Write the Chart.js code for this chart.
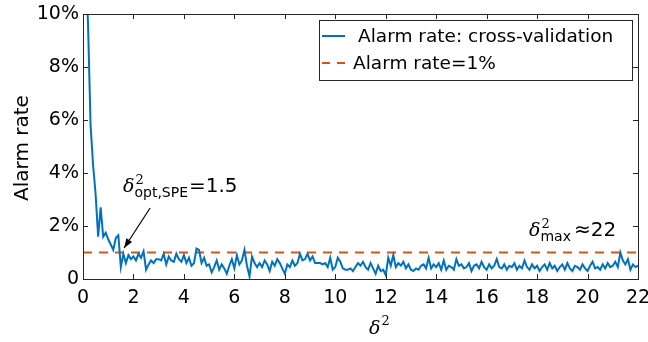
<!DOCTYPE html>
<html><head><meta charset="utf-8">
<script src="https://cdn.jsdelivr.net/npm/chart.js@4/dist/chart.umd.min.js"></script>
<style>html,body{margin:0;padding:0;background:#fff}#wrap{width:648px;height:342px}</style>
</head><body><div id="wrap"><canvas id="c" width="648" height="342"></canvas></div>
<script>
// ---- data ----
const xStart = 0;
const xStep = 0.1;
const alarmRate = [
  15, 12, 9.6, 5.8, 4.3, 3.2, 1.6, 2.7, 1.6, 1.75,
  1.5, 1.3, 1.1, 1.55, 1.65, 0.45, 0.95, 0.6, 0.9, 0.75,
  0.85, 0.7, 0.95, 0.8, 1.05, 0.35, 0.55, 0.7, 0.6, 0.75,
  0.75, 0.7, 0.95, 0.55, 0.85, 0.7, 0.65, 0.95, 0.75, 0.65,
  0.9, 0.6, 0.8, 0.5, 0.6, 1.15, 1.1, 0.6, 0.8, 0.5,
  0.55, 0.25, 0.45, 0.7, 0.35, 0.55, 0.4, 0.2, 0.5, 0.75,
  0.4, 0.9, 0.55, 0.7, 1.1, 0.5, 0.1, 0.85, 0.6, 0.45,
  0.6, 0.45, 0.7, 0.55, 0.3, 0.65, 0.5, 0.75, 0.6, 0.4,
  0.2, 0.55, 0.45, 0.7, 0.5, 0.6, 0.95, 0.7, 0.75, 0.95,
  0.7, 0.85, 0.6, 0.6, 0.6, 0.55, 0.6, 0.45, 0.8, 0.35,
  0.45, 0.8, 0.65, 0.4, 0.35, 0.35, 0.4, 0.3, 0.45, 0.6,
  0.5, 0.65, 0.45, 0.35, 0.6, 0.4, 0.2, 0.5, 0.3, 0.35,
  0.15, 0.8, 0.5, 0.9, 0.45, 0.6, 0.5, 0.65, 0.4, 0.55,
  0.35, 0.3, 0.4, 0.35, 0.5, 0.55, 0.4, 0.8, 0.4, 0.55,
  0.45, 0.6, 0.35, 0.7, 0.35, 0.5, 0.45, 0.35, 0.75, 0.5,
  0.55, 0.4, 0.45, 0.6, 0.3, 0.5, 0.55, 0.4, 0.65, 0.45,
  0.35, 0.55, 0.4, 0.5, 0.75, 0.45, 0.4, 0.55, 0.35, 0.5,
  0.45, 0.6, 0.35, 0.5, 0.4, 0.7, 0.45, 0.35, 0.55, 0.4,
  0.5, 0.3, 0.45, 0.55, 0.35, 0.6, 0.4, 0.5, 0.3, 0.45,
  0.55, 0.35, 0.6, 0.4, 0.3, 0.5, 0.45, 0.35, 0.55, 0.4,
  0.3, 0.5, 0.65, 0.4, 0.45, 0.35, 0.55, 0.4, 0.6, 0.45,
  0.5, 0.65, 0.45, 1.0, 0.7, 0.55, 0.75, 0.35, 0.55, 0.45,
  0.5
];
const thresholdRate = 1;
const xRange = [0, 22];
const yRange = [0, 10];
const xTicks = [0, 2, 4, 6, 8, 10, 12, 14, 16, 18, 20, 22];
const yTicks = [0, 2, 4, 6, 8, 10];
const seriesNames = ['Alarm rate: cross-validation', 'Alarm rate=1%'];
const optArrow = { from: { x: 2.66, y: 2.68 }, to: { x: 1.63, y: 1.17 } };
const optLabel = { sub: 'opt,SPE', value: '=1.5' };
const maxLabel = { sub: 'max', value: '\u224822' };

const BLUE = '#0072BD', ORANGE = '#D95319', AXIS = '#262626';
const SANS = '"DejaVu Sans", sans-serif';
const SERIF = '"DejaVu Serif", serif';

const curve = alarmRate.map((v, i) => ({ x: xStart + i * xStep, y: v }));
const threshLine = xRange.map(x => ({ x, y: thresholdRate }));

const decor = {
  id: 'decor',
  afterDraw(chart) {
    const ctx = chart.ctx, a = chart.chartArea;
    const xs = chart.scales.x, ys = chart.scales.y;
    ctx.save();
    // frame
    ctx.strokeStyle = AXIS; ctx.lineWidth = 1;
    ctx.strokeRect(Math.round(a.left) + 0.5, Math.round(a.top) + 0.5,
      Math.round(a.right - a.left), Math.round(a.bottom - a.top));
    // inward ticks
    ctx.beginPath();
    xTicks.forEach(t => {
      const px = Math.round(xs.getPixelForValue(t)) + 0.5;
      ctx.moveTo(px, a.bottom); ctx.lineTo(px, a.bottom - 5);
      ctx.moveTo(px, a.top); ctx.lineTo(px, a.top + 5);
    });
    yTicks.forEach(t => {
      const py = Math.round(ys.getPixelForValue(t)) + 0.5;
      ctx.moveTo(a.left, py); ctx.lineTo(a.left + 5, py);
      ctx.moveTo(a.right, py); ctx.lineTo(a.right - 5, py);
    });
    ctx.stroke();

    // legend
    const lx = 319, ly = 20, lw = 313, lh = 60;
    ctx.fillStyle = '#fff';
    ctx.fillRect(lx, ly, lw, lh);
    ctx.strokeStyle = AXIS;
    ctx.strokeRect(lx + 0.5, ly + 0.5, lw, lh);
    ctx.lineWidth = 2;
    ctx.strokeStyle = BLUE;
    ctx.beginPath(); ctx.moveTo(322, 36); ctx.lineTo(345, 36); ctx.stroke();
    ctx.strokeStyle = ORANGE;
    ctx.setLineDash([8, 7]);
    ctx.beginPath(); ctx.moveTo(322, 63); ctx.lineTo(346, 63); ctx.stroke();
    ctx.setLineDash([]);
    ctx.fillStyle = '#000';
    ctx.font = '18.5px ' + SANS;
    ctx.textBaseline = 'middle'; ctx.textAlign = 'left';
    ctx.fillText(seriesNames[0], 358, 37);
    ctx.fillText(seriesNames[1], 353, 64);

    // arrow
    const x0 = xs.getPixelForValue(optArrow.from.x), y0 = ys.getPixelForValue(optArrow.from.y);
    const x1 = xs.getPixelForValue(optArrow.to.x), y1 = ys.getPixelForValue(optArrow.to.y);
    ctx.strokeStyle = '#000'; ctx.fillStyle = '#000'; ctx.lineWidth = 1.2;
    ctx.beginPath(); ctx.moveTo(x0, y0); ctx.lineTo(x1, y1); ctx.stroke();
    const ang = Math.atan2(y1 - y0, x1 - x0), hl = 10, hw = 0.35;
    ctx.beginPath();
    ctx.moveTo(x1, y1);
    ctx.lineTo(x1 - hl * Math.cos(ang - hw), y1 - hl * Math.sin(ang - hw));
    ctx.lineTo(x1 - hl * Math.cos(ang + hw), y1 - hl * Math.sin(ang + hw));
    ctx.closePath(); ctx.fill();

    // annotations
    ctx.textBaseline = 'alphabetic';
    function deltaLabel(x, base, sub, value, gap, vsize) {
      ctx.font = 'italic 19px ' + SERIF;
      ctx.fillText('\u03B4', x, base);
      const dw = ctx.measureText('\u03B4').width;
      ctx.font = '13px ' + SERIF;
      ctx.fillText('2', x + dw + 1, base - 8);
      ctx.font = '14px ' + SANS;
      ctx.fillText(sub, x + dw, base + 5);
      const sw = ctx.measureText(sub).width;
      ctx.font = vsize + 'px ' + SANS;
      ctx.fillText(value, x + dw + sw + gap, base);
    }
    deltaLabel(123, 192, optLabel.sub, optLabel.value, 1, 20);
    deltaLabel(529, 236, maxLabel.sub, maxLabel.value, 3, 20);

    // axis titles
    ctx.font = 'italic 19px ' + SERIF;
    ctx.fillText('\u03B4', 369, 334);
    const dw = ctx.measureText('\u03B4').width;
    ctx.font = '13px ' + SERIF;
    ctx.fillText('2', 369 + dw + 1, 325);
    ctx.save();
    ctx.translate(23, 148); ctx.rotate(-Math.PI / 2);
    ctx.font = '20px ' + SANS; ctx.textAlign = 'center'; ctx.textBaseline = 'middle';
    ctx.fillText('Alarm rate', 0, 0);
    ctx.restore();
    ctx.restore();
  }
};

new Chart(document.getElementById('c'), {
  type: 'line',
  data: {
    datasets: [
      { label: seriesNames[0], data: curve, borderColor: BLUE, borderWidth: 2, pointRadius: 0, tension: 0, order: 1 },
      { label: seriesNames[1], data: threshLine, borderColor: ORANGE, borderWidth: 2, borderDash: [9, 7], pointRadius: 0, order: 2 }
    ]
  },
  options: {
    responsive: false, animation: false, devicePixelRatio: 1,
    layout: { padding: { left: 0, right: 10, top: 14, bottom: 0 } },
    plugins: { legend: { display: false }, tooltip: { enabled: false } },
    scales: {
      x: {
        type: 'linear', min: xRange[0], max: xRange[1],
        afterBuildTicks: s => { s.ticks = xTicks.map(v => ({ value: v })); },
        afterFit: s => { s.height = 63; s.paddingRight = 0; s.paddingLeft = 0; },
        grid: { display: false, drawTicks: false },
        border: { display: false },
        ticks: { color: '#000', font: { family: SANS, size: 19 }, padding: 8, maxRotation: 0, autoSkip: false }
      },
      y: {
        min: yRange[0], max: yRange[1],
        afterBuildTicks: s => { s.ticks = yTicks.map(v => ({ value: v })); },
        afterFit: s => { s.width = 83; s.paddingTop = 0; s.paddingBottom = 0; },
        grid: { display: false, drawTicks: false },
        border: { display: false },
        ticks: { color: '#000', font: { family: SANS, size: 19 }, padding: 4,
          callback: v => v === 0 ? '0' : v + '%' }
      }
    }
  },
  plugins: [decor]
});
</script></body></html>
